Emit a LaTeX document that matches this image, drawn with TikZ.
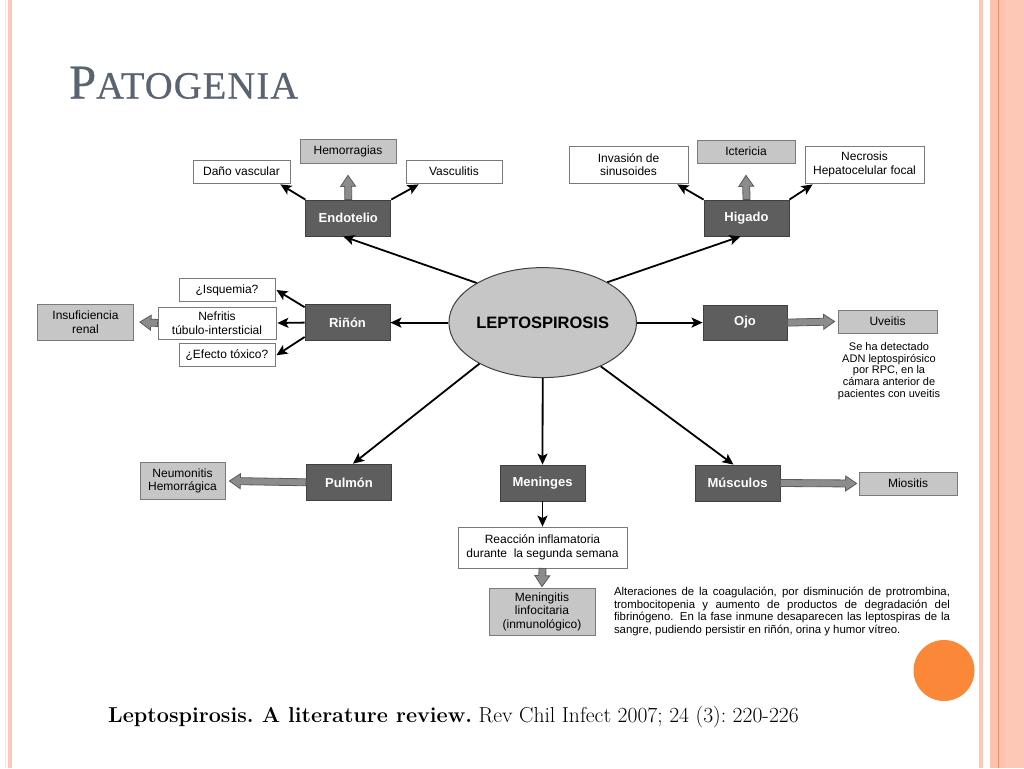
\documentclass[tikz,border=0pt]{standalone}
\usepackage{fontspec}
\newfontfamily\arialf{Liberation Sans}
\newfontfamily\serff[FakeBold=0.6,LetterSpace=3]{Liberation Serif}
\usetikzlibrary{calc,arrows.meta,shapes.geometric}
\definecolor{darkbox}{HTML}{5E5E5E}
\definecolor{darkline}{HTML}{404040}
\definecolor{greybox}{HTML}{C6C6C6}
\definecolor{boxline}{HTML}{7A7A7A}
\definecolor{fatfill}{HTML}{8C8C8C}
\definecolor{fatline}{HTML}{5A5A5A}
\definecolor{titlecol}{HTML}{5A6372}
\definecolor{orangec}{HTML}{FA8838}
\definecolor{pinkA}{HTML}{FCC2AC}
\definecolor{pinkB}{HTML}{FBE0D2}
\definecolor{pinkC}{HTML}{FDC9B6}
\definecolor{pinkline}{HTML}{E0926E}
\newcommand\fatarr[2]{%
  \coordinate (fA) at (#1);
  \coordinate (fB) at (#2);
  \coordinate (fC) at ($(fB)!11pt!(fA)$);
  \filldraw[fat] ($(fA)!3.5pt!90:(fB)$) -- ($(fC)!3.5pt!-90:(fA)$) -- ($(fC)!7.5pt!-90:(fA)$) -- (fB) -- ($(fC)!7.5pt!90:(fA)$) -- ($(fC)!3.5pt!90:(fA)$) -- ($(fA)!3.5pt!-90:(fB)$) -- cycle;}
\begin{document}
\begin{tikzpicture}[x=1pt,y=-1pt,
  dbox/.style={draw=darkline, fill=darkbox, text=white, font=\arialf\bfseries\fontsize{13}{15}\selectfont, minimum width=85pt, minimum height=36pt, inner sep=0pt, line width=0.8pt},
  gbox/.style={draw=boxline, fill=greybox, font=\arialf\fontsize{12}{13.5}\selectfont, inner sep=0pt, align=center, line width=0.8pt},
  wbox/.style={draw=boxline, fill=white, font=\arialf\fontsize{12}{13.5}\selectfont, inner sep=0pt, align=center, line width=0.8pt},
  arr/.style={line width=1.8pt, -{Stealth[length=11pt,width=10pt,inset=2.5pt]}},
  fat/.style={fill=fatfill, draw=fatline, line width=0.8pt}]
\useasboundingbox (0,0) rectangle (1024,768);
\fill[white] (0,0) rectangle (1024,768);
% borders
\fill[pinkB] (4.5,0) rectangle (6,768);
\fill[pinkC] (8,0) rectangle (11.7,768);
\fill[pinkC] (979,0) rectangle (982.5,768);
\fill[pinkA] (989.5,0) rectangle (1024,768);
\fill[pinkC] (1005,0) rectangle (1024,768);
\fill[pinkline] (997.8,0) rectangle (999,768);
% title
\node[anchor=base west, text=titlecol, inner sep=0pt] (tit) at (69,98.5) {\serff\fontsize{48.5}{50}\selectfont P\fontsize{38.5}{40}\selectfont ATOGENIA};
% central
\node[ellipse, draw=darkline, fill=greybox, minimum width=180pt, minimum height=110pt, inner sep=0pt, line width=1pt, font=\arialf\bfseries\fontsize{16.5}{18}\selectfont] (lep) at (542.7,322.6) {LEPTOSPIROSIS};
% endotelio
\node[gbox, minimum width=96pt, minimum height=24pt] (hem) at (348,151) {Hemorragias};
\node[wbox, minimum width=97pt, minimum height=23pt] (dano) at (241.5,171.5) {Daño vascular};
\node[wbox, minimum width=96pt, minimum height=23pt] (vasc) at (454,171.5) {Vasculitis};
\node[dbox] (endo) at (348.3,218) {Endotelio};
% higado
\node[gbox, minimum width=98pt, minimum height=23pt] (ict) at (746,151.5) {Ictericia};
\node[wbox, minimum width=119pt, minimum height=37pt] (inv) at (628.5,164.5) {Invasión de\\sinusoides};
\node[wbox, minimum width=119pt, minimum height=37pt] (nec) at (864.5,164.5) {Necrosis\\Hepatocelular focal};
\node[dbox] (hig) at (746.5,218) {Higado};
% rinon
\node[dbox] (rin) at (347.5,322.6) {Riñón};
\node[wbox, minimum width=96pt, minimum height=23pt] (isq) at (227,290) {¿Isquemia?};
\node[wbox, minimum width=118pt, minimum height=32pt] (nef) at (217,323) {Nefritis\\túbulo-intersticial};
\node[wbox, minimum width=96pt, minimum height=23pt] (efe) at (227,355.3) {¿Efecto tóxico?};
\node[gbox, minimum width=96pt, minimum height=36pt] (ins) at (85.5,322) {Insuficiencia\\renal};
% ojo
\node[dbox, minimum width=84pt, minimum height=35pt] (ojo) at (745,322.6) {Ojo};
\node[gbox, minimum width=99pt, minimum height=23pt] (uve) at (887.5,321.5) {Uveitis};
\node[align=center, inner sep=0pt, font=\arialf\fontsize{11}{11.8}\selectfont] (note) at (889,371) {Se ha detectado\\ADN leptospirósico\\por RPC, en la\\cámara anterior de\\pacientes con uveitis};
% bottom row
\node[dbox, minimum height=36.5pt] (pul) at (349,482.3) {Pulmón};
\node[gbox, minimum width=85pt, minimum height=37pt] (neu) at (182.5,481) {Neumonitis\\Hemorrágica};
\node[dbox] (men) at (542.5,483) {Meninges};
\node[dbox] (mus) at (737.5,483) {Músculos};
\node[gbox, minimum width=98pt, minimum height=23pt] (mio) at (908,483.5) {Miositis};
\node[wbox, minimum width=169pt, minimum height=41pt] (rea) at (542.5,547.5) {Reacción inflamatoria\\durante\ \ la segunda semana};
\node[gbox, minimum width=106pt, minimum height=47pt] (mgt) at (542,611.5) {Meningitis\\linfocitaria\\(inmunológico)};
\node[inner sep=0pt, text width=336pt, align=justify, font=\arialf\fontsize{11.4}{12.8}\selectfont] (par) at (782,611.5) {Alteraciones de la coagulación, por disminución de protrombina,\linebreak trombocitopenia y aumento de productos de degradación del\linebreak fibrinógeno. En la fase inmune desaparecen las leptospiras de la\linebreak sangre, pudiendo persistir en riñón, orina y humor vítreo.};
% arrows from center
\draw[arr] (lep.149) -- ($(endo.south)+(-5,0)$);
\draw[arr] (lep.32) -- ($(hig.south)+(-6,0)$);
\draw[arr] (lep.west) -- (rin.east);
\draw[arr] (lep.east) -- (ojo.west);
\draw[arr] (lep.213) -- ($(pul.north)+(4,0)$);
\draw[arr] (lep.south) -- (men.north);
\draw[arr] (lep.323) -- ($(mus.north)+(-4,0)$);
% secondary arrows
\draw[arr] (endo.north west) -- ($(dano.south east)+(-10,1)$);
\draw[arr] (endo.north east) -- ($(vasc.south west)+(13,1)$);
\draw[arr] (hig.north west) -- ($(inv.south east)+(-11,1)$);
\draw[arr] (hig.north east) -- ($(nec.south west)+(8,1)$);
\draw[arr] ($(rin.north west)+(0,3)$) -- ($(isq.east)+(1,0)$);
\draw[arr] (rin.west) -- ($(nef.east)+(1,0)$);
\draw[arr] ($(rin.south west)+(0,-4)$) -- ($(efe.east)+(1,0)$);
\draw[arr] (men.south) -- (rea.north);
% fat arrows
\fatarr{endo.north}{$(hem.south)+(0,12)$}
\fatarr{hig.north}{$(ict.south)+(0,12)$}
\fatarr{nef.west}{$(ins.east)+(6,0)$}
\fatarr{ojo.east}{$(uve.west)+(-3,0)$}
\fatarr{pul.west}{$(neu.east)+(4,0)$}
\fatarr{mus.east}{$(mio.west)+(-2,0)$}
\fatarr{rea.south}{$(mgt.north)+(0,-1)$}
% decoration
\fill[orangec] (944,670.5) circle[radius=30.5];
% citation
\node[anchor=base west, inner sep=0pt, font=\frenchspacing\fontsize{21.6}{24}\selectfont] (cit) at (108,722) {\textbf{Leptospirosis. A literature review.} Rev Chil Infect 2007; 24 (3): 220-226};
\end{tikzpicture}
\end{document}
